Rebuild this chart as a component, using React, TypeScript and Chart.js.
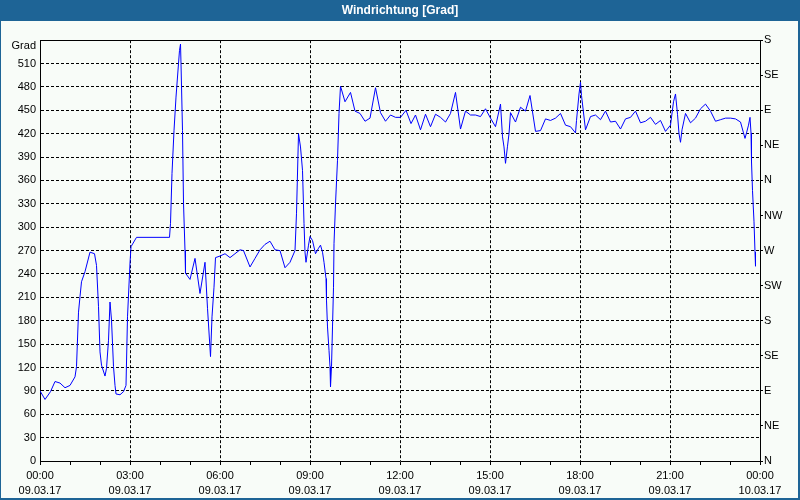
import React, { useEffect, useRef } from "react";
import { Chart, registerables } from "chart.js";

Chart.register(...registerables);

// minutes since 09.03.17 00:00
const minutes: number[] = [
  0, 10, 21, 30, 40, 50, 60, 70, 73, 77, 80, 83, 90, 100, 109, 113, 117, 120, 123, 130,
  133, 137, 140, 143, 147, 150, 152, 160, 167, 172, 175, 180, 182, 193, 259, 261, 264, 268, 272, 277,
  279, 281, 282, 285, 287, 290, 291, 300, 310, 320, 330, 335, 341, 344, 348, 351, 360, 370, 380, 390,
  400, 407, 420, 430, 440, 450, 460, 470, 480, 490, 500, 510, 513, 517, 521, 525, 528, 530, 532, 537,
  540, 545, 551, 557, 561, 565, 568, 572, 573, 575, 578, 580, 581, 583, 585, 587, 588, 591, 595, 598,
  601, 610, 621, 630, 640, 650, 660, 671, 681, 691, 701, 711, 721, 732, 742, 751, 761, 771, 781, 791,
  801, 811, 821, 831, 841, 851, 861, 871, 881, 891, 901, 911, 921, 925, 928, 931, 935, 938, 941, 951,
  961, 971, 980, 991, 1001, 1011, 1021, 1031, 1041, 1051, 1061, 1071, 1073, 1078, 1081, 1083, 1091, 1101, 1111, 1121,
  1131, 1141, 1151, 1161, 1171, 1181, 1191, 1201, 1211, 1221, 1231, 1241, 1251, 1261, 1267, 1271, 1275, 1278, 1281, 1284,
  1291, 1301, 1311, 1321, 1331, 1341, 1351, 1361, 1371, 1381, 1391, 1401, 1407, 1410, 1413, 1417, 1420, 1422, 1423, 1425,
  1428, 1430, 1431,
];

// wind direction in degrees
const degrees: number[] = [
  90, 79, 89, 102, 100, 94, 97, 108, 121, 191, 211, 230, 243, 268, 266, 251, 198, 140, 123, 109,
  119, 155, 204, 181, 121, 97, 86, 85, 89, 97, 185, 254, 275, 287, 287, 305, 369, 424, 467, 510,
  527, 535, 510, 424, 331, 270, 241, 233, 260, 215, 255, 196, 134, 185, 223, 261, 263, 266, 261, 266,
  271, 270, 249, 260, 271, 278, 282, 271, 270, 248, 255, 270, 318, 420, 403, 373, 305, 268, 255, 277,
  288, 283, 266, 273, 277, 268, 255, 234, 206, 172, 142, 121, 95, 121, 172, 223, 279, 330, 386, 446,
  481, 461, 473, 449, 446, 436, 440, 479, 447, 436, 444, 441, 441, 450, 433, 444, 425, 445, 429, 445,
  441, 435, 446, 473, 426, 449, 444, 444, 442, 452, 440, 429, 458, 416, 403, 382, 404, 420, 447, 435,
  454, 449, 469, 423, 424, 439, 437, 440, 446, 431, 429, 421, 437, 471, 486, 469, 425, 442, 444, 438,
  449, 435, 436, 426, 439, 441, 449, 434, 436, 441, 432, 437, 423, 431, 461, 471, 445, 420, 409, 425,
  446, 434, 440, 452, 458, 449, 436, 438, 440, 440, 439, 435, 421, 414, 421, 431, 441, 421, 384, 347,
  307, 268, 250,
];

const compassLabels: string[] = ["N", "NE", "E", "SE", "S", "SW", "W", "NW", "N", "NE", "E", "SE", "S"];
const dateLabels: string[] = ["09.03.17", "10.03.17"];
const titleText = "Windrichtung [Grad]";
const unitLabel = "Grad";

const FONT = "'Liberation Sans', Arial, sans-serif";

const framePlugin = {
  id: "frame",
  beforeDraw(chart: any) {
    const ctx = chart.ctx;
    const w = chart.width;
    const h = chart.height;
    ctx.save();
    ctx.fillStyle = "#f8fcf8";
    ctx.fillRect(0, 0, w, h);
    ctx.fillStyle = "#1e6496";
    ctx.fillRect(0, 0, w, 21);
    ctx.fillRect(0, 0, 1, h);
    ctx.fillRect(w - 2, 0, 2, h);
    ctx.fillRect(0, h - 2, w, 2);
    ctx.restore();
  },
  afterDraw(chart: any) {
    const ctx = chart.ctx;
    ctx.save();
    ctx.font = `11px ${FONT}`;
    ctx.fillStyle = "#000";
    ctx.textAlign = "right";
    ctx.textBaseline = "middle";
    ctx.fillText(unitLabel, chart.chartArea.left - 4, 46);
    ctx.restore();
  },
};

export default function App() {
  const ref = useRef<HTMLCanvasElement>(null);
  useEffect(() => {
    if (!ref.current) return;
    const points = minutes.map((m, i) => ({ x: m, y: degrees[i] }));
    const chart = new Chart(ref.current, {
      type: "line",
      data: {
        datasets: [
          {
            data: points,
            borderColor: "#0000ff",
            borderWidth: 1,
            pointRadius: 0,
            tension: 0,
            fill: false,
            yAxisID: "y",
          },
        ],
      },
      plugins: [framePlugin],
      options: {
        animation: false,
        responsive: false,
        devicePixelRatio: 1,
        layout: { padding: 0 },
        plugins: {
          legend: { display: false },
          tooltip: { enabled: false },
          title: {
            display: true,
            text: titleText,
            color: "#ffffff",
            font: { family: FONT, size: 12, weight: "bold", lineHeight: 1.2 },
            padding: { top: 3, bottom: 22.8 },
          },
        },
        scales: {
          x: {
            type: "linear",
            position: "bottom",
            min: 0,
            max: 1440,
            afterFit: (s: any) => {
              s.height = 39;
            },
            ticks: {
              stepSize: 60,
              autoSkip: false,
              maxRotation: 0,
              minRotation: 0,
              padding: 3,
              color: "#000",
              font: { family: FONT, size: 11, lineHeight: 15 / 11 },
              callback: (v: any) => {
                const val = Number(v);
                if (val % 180 !== 0) return "";
                const hh = String((val / 60) % 24).padStart(2, "0");
                const d = val < 1440 ? dateLabels[0] : dateLabels[1];
                return [`${hh}:00`, d];
              },
            },
            grid: {
              color: (ctx: any) => (ctx.tick && ctx.tick.value % 180 === 0 ? "#000" : "rgba(0,0,0,0)"),
              tickColor: "#000",
              tickLength: 4,
              tickBorderDash: [],
              lineWidth: 1,
              drawTicks: true,
            },
            border: { display: true, color: "#000", width: 1, dash: [3, 2] },
          },
          xTop: {
            type: "linear",
            position: "top",
            min: 0,
            max: 1440,
            afterFit: (s: any) => {
              s.height = 0;
            },
            ticks: { display: false },
            grid: { display: false, drawTicks: false },
            border: { display: true, color: "#000", width: 1 },
          },
          y: {
            type: "linear",
            position: "left",
            min: 0,
            max: 540,
            afterFit: (s: any) => {
              s.width = 40;
            },
            ticks: {
              stepSize: 30,
              autoSkip: false,
              padding: 4,
              color: "#000",
              font: { family: FONT, size: 11 },
              callback: (v: any) => (Number(v) === 540 ? "" : String(v)),
            },
            grid: {
              color: "#000",
              lineWidth: 1,
              drawTicks: false,
            },
            border: { display: true, color: "#000", width: 1, dash: [3, 2] },
          },
          yRight: {
            type: "linear",
            position: "right",
            min: 0,
            max: 540,
            afterFit: (s: any) => {
              s.width = 40;
            },
            ticks: {
              stepSize: 45,
              autoSkip: false,
              padding: 1,
              color: "#000",
              font: { family: FONT, size: 11 },
              callback: (v: any) => compassLabels[Math.round(Number(v) / 45)] ?? "",
            },
            grid: {
              drawOnChartArea: false,
              drawTicks: true,
              tickLength: 3,
              tickColor: "#000",
              color: "#000",
            },
            border: { display: true, color: "#000", width: 1 },
          },
        },
      } as any,
    });
    return () => chart.destroy();
  }, []);

  return (
    <div style={{ position: "absolute", left: 0, top: 0, width: 800, height: 500 }}>
      <canvas ref={ref} width={800} height={500} style={{ display: "block", width: 800, height: 500 }} />
    </div>
  );
}
